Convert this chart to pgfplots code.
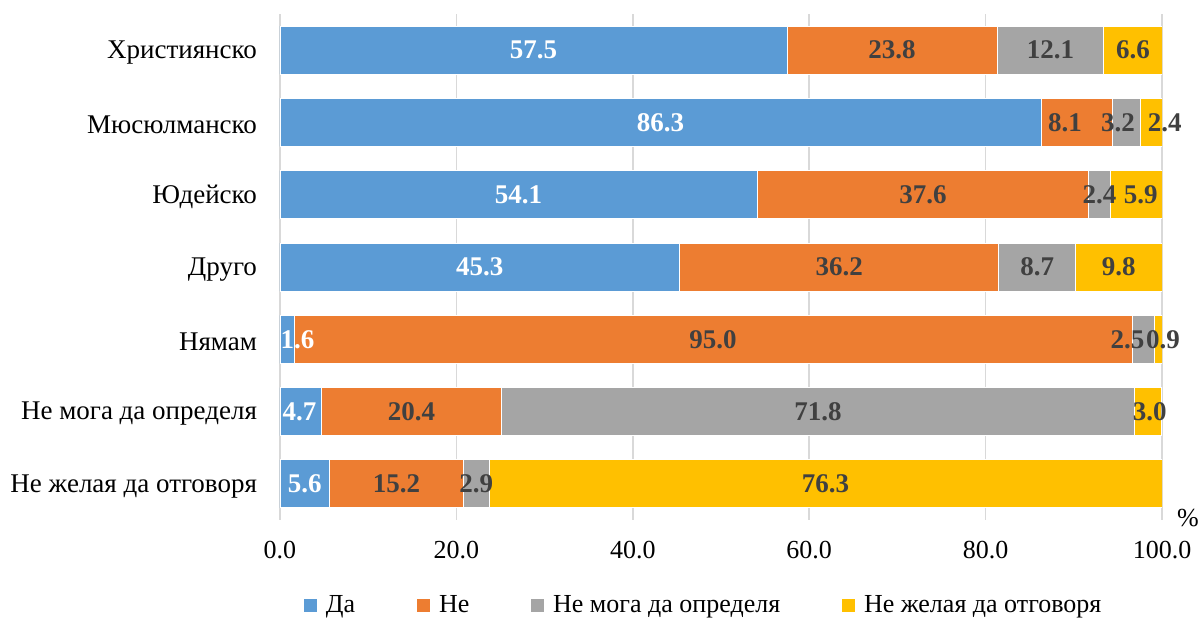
\documentclass[border=0pt]{standalone}
\usepackage{pgfplots}
\usepackage{pgfplotstable}
\pgfplotsset{compat=1.18}
\usepackage{fontspec}
\setmainfont{Liberation Serif}
\definecolor{cblue}{HTML}{5B9BD5}
\definecolor{corange}{HTML}{ED7D31}
\definecolor{cgray}{HTML}{A5A5A5}
\definecolor{cyellow}{HTML}{FFC000}
\definecolor{gridgray}{HTML}{D9D9D9}
\definecolor{lblgray}{HTML}{404040}

\pgfplotstableread{
y da ne nm nz
0 57.5 23.8 12.1 6.6
1 86.3 8.1 3.2 2.4
2 54.1 37.6 2.4 5.9
3 45.3 36.2 8.7 9.8
4 1.6 95.0 2.5 0.9
5 4.7 20.4 71.8 3.0
6 5.6 15.2 2.9 76.3
}\datatable

\pgfplotstableread{
y x v
0 28.75 57.5
1 43.15 86.3
2 27.05 54.1
3 22.65 45.3
4 1.98 1.6
5 2.2 4.7
6 2.8 5.6
}\labda
\pgfplotstableread{
y x v
0 69.4 23.8
1 89.0 8.1
2 72.9 37.6
3 63.4 36.2
4 49.1 95.0
5 14.9 20.4
6 13.2 15.2
}\labne
\pgfplotstableread{
y x v
0 87.35 12.1
1 95.0 3.2
2 92.9 2.4
3 85.85 8.7
4 96.1 2.5
5 61.0 71.8
6 22.25 2.9
}\labnm
\pgfplotstableread{
y x v
0 96.7 6.6
1 100.3 2.4
2 97.6 5.9
3 95.1 9.8
4 100.1 0.9
5 98.6 3.0
6 61.85 76.3
}\labnz

\begin{document}
\begin{tikzpicture}
\useasboundingbox (0,0) rectangle (600pt,308.5pt);
\begin{axis}[
  at={(140pt,48.5pt)}, anchor=south west,
  scale only axis, width=441pt, height=253pt,
  xbar stacked, bar width=24pt,
  xmin=0, xmax=100, ymin=-0.5, ymax=6.5, y dir=reverse,
  xtick={0,20,...,100},
  xticklabel={\pgfmathprintnumber[fixed,fixed zerofill,precision=1,assume math mode=true]{\tick}},
  xticklabel style={font=\fontsize{13}{13}\selectfont, yshift=-7pt},
  ytick={0,...,6},
  yticklabels={Християнско,Мюсюлманско,Юдейско,Друго,Нямам,Не мога да определя,Не желая да отговоря},
  yticklabel style={font=\fontsize{13.5}{13.5}\selectfont, xshift=-8pt, yshift=-1.2pt},
  major tick length=0pt,
  xmajorgrids, grid style={draw=gridgray, line width=0.75pt},
  axis line style={draw=none},
  legend columns=4,
  legend style={at={(0.481,-0.168)}, anchor=center, draw=none, fill=none,
    font=\fontsize{13}{13}\selectfont, inner sep=0pt,
    /tikz/every even column/.append style={column sep=28.5pt},
    /tikz/every odd column/.append style={column sep=2pt}},
  legend image code/.code={\fill[#1] (0pt,-3.5pt) rectangle (7pt,3.5pt);},
  every axis plot/.append style={draw=white, line width=0.4pt},
]
\addplot[fill=cblue] table[x=da,y=y] {\datatable};
\addplot[fill=corange] table[x=ne,y=y] {\datatable};
\addplot[fill=cgray] table[x=nm,y=y] {\datatable};
\addplot[fill=cyellow] table[x=nz,y=y] {\datatable};
\legend{Да,Не,Не мога да определя,Не желая да отговоря}
\end{axis}
\begin{axis}[
  at={(140pt,48.5pt)}, anchor=south west,
  scale only axis, width=441pt, height=253pt,
  xmin=0, xmax=100, ymin=-0.5, ymax=6.5, y dir=reverse,
  axis lines=none, clip=false,
  nodes near coords={\pgfplotspointmeta},
  point meta=explicit symbolic,
  nodes near coords align=center,
  every node near coord/.append style={anchor=center, font=\fontsize{13.5}{13.5}\selectfont\bfseries, inner sep=0pt},
]
\addplot[draw=none, mark=none, every node near coord/.append style={text=white}] table[x=x,y=y,meta=v] {\labda};
\addplot[draw=none, mark=none, every node near coord/.append style={text=lblgray}] table[x=x,y=y,meta=v] {\labne};
\addplot[draw=none, mark=none, every node near coord/.append style={text=lblgray}] table[x=x,y=y,meta=v] {\labnm};
\addplot[draw=none, mark=none, every node near coord/.append style={text=lblgray}] table[x=x,y=y,meta=v] {\labnz};
\end{axis}
\node[font=\fontsize{13}{13}\selectfont] at (594pt,49.5pt) {\%};
\end{tikzpicture}
\end{document}
